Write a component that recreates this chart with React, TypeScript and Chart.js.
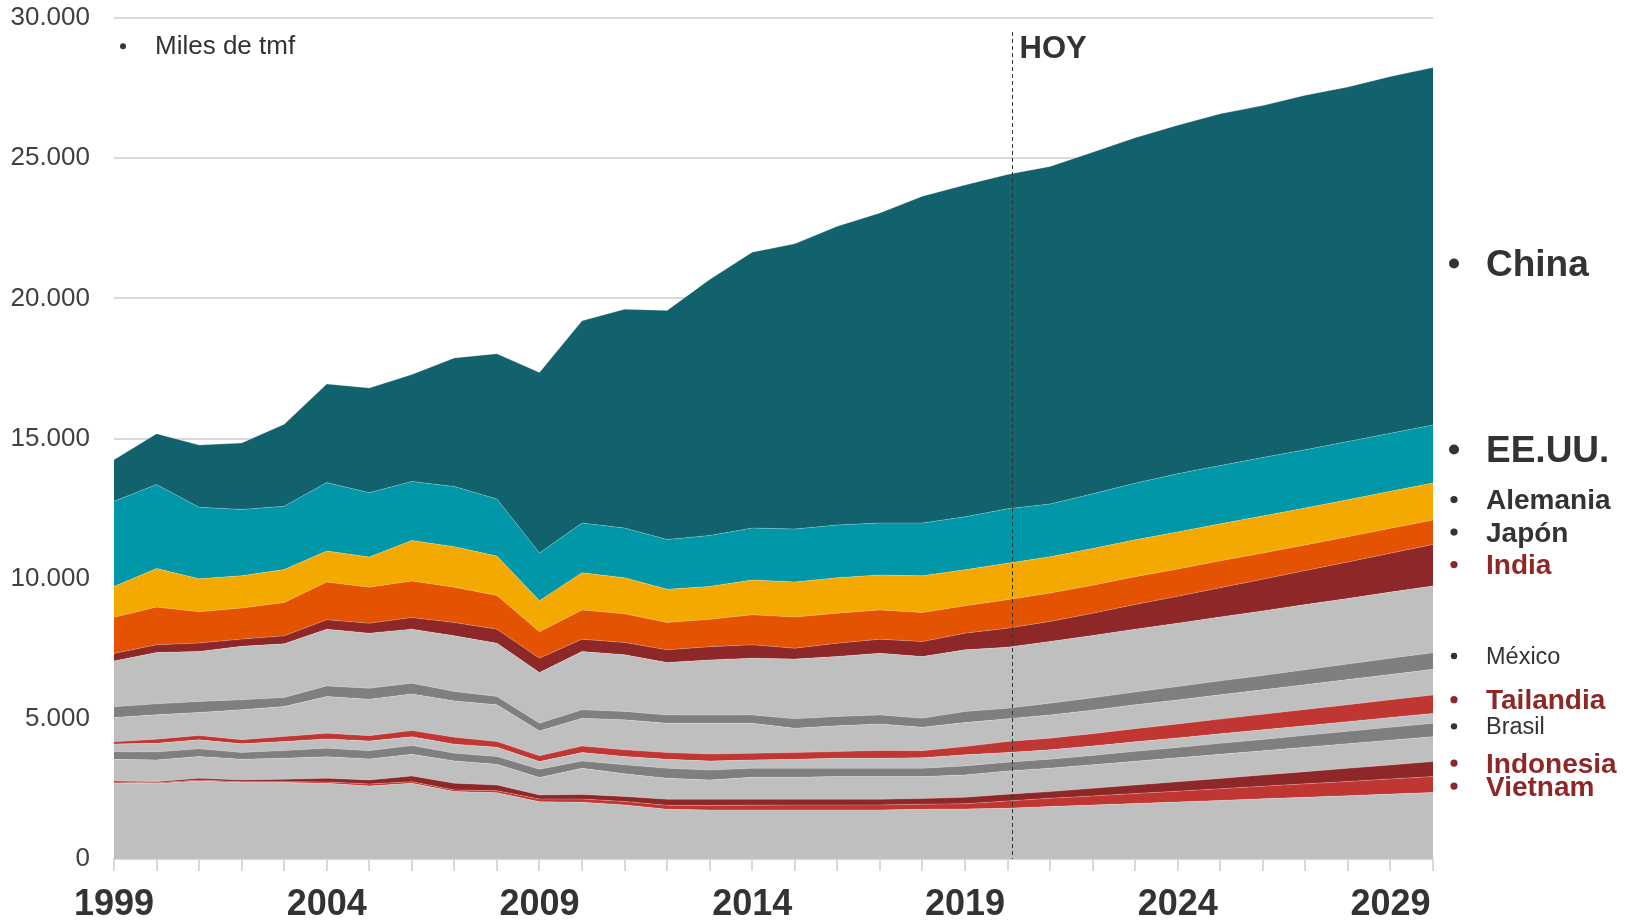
import React, { useEffect, useRef } from 'react';
import { Chart, registerables } from 'chart.js';

Chart.register(...registerables);

// ---------- DATA (miles de tmf) ----------
const YEARS = [
  1999, 2000, 2001, 2002, 2003, 2004, 2005, 2006, 2007, 2008, 2009, 2010, 2011, 2012, 2013, 2014,
  2015, 2016, 2017, 2018, 2019, 2020, 2021, 2022, 2023, 2024, 2025, 2026, 2027, 2028, 2029, 2030,
];
const TICK_YEARS = [1999, 2004, 2009, 2014, 2019, 2024, 2029];
const Y_TICKS_STEP = 5000;
const Y_MAX = 30000;

// stacked from bottom to top
const OTROS_A = [2710, 2690, 2785, 2725, 2725, 2700, 2605, 2700, 2405, 2365, 2045, 2025, 1930, 1775, 1750, 1750, 1750, 1750, 1750, 1775, 1785, 1810, 1870, 1925, 1980, 2035, 2090, 2145, 2200, 2255, 2315, 2370];
const VIETNAM = [35, 30, 35, 35, 35, 50, 70, 60, 60, 70, 95, 115, 125, 140, 160, 170, 175, 175, 180, 180, 185, 260, 295, 325, 355, 385, 415, 450, 480, 510, 540, 570];
const INDONESIA = [40, 40, 60, 60, 85, 130, 145, 200, 235, 205, 145, 165, 175, 215, 220, 210, 205, 205, 200, 200, 230, 240, 240, 270, 305, 335, 370, 400, 435, 470, 500, 535];
const OTROS_B = [770, 775, 775, 740, 750, 770, 750, 775, 800, 740, 620, 930, 810, 750, 690, 785, 785, 810, 810, 785, 800, 830, 835, 840, 845, 855, 860, 865, 870, 880, 885, 890];
const BRASIL = [270, 285, 275, 240, 275, 300, 295, 310, 275, 275, 300, 260, 320, 355, 355, 320, 320, 295, 295, 295, 320, 310, 320, 335, 355, 370, 390, 405, 425, 440, 460, 475];
const OTROS_C = [275, 310, 320, 310, 320, 335, 345, 320, 320, 335, 270, 300, 300, 320, 320, 300, 320, 360, 360, 380, 395, 345, 335, 335, 340, 340, 340, 345, 345, 345, 350, 350];
const TAILANDIA = [80, 145, 155, 145, 180, 200, 190, 215, 250, 200, 205, 235, 235, 240, 250, 235, 240, 240, 275, 250, 295, 395, 415, 440, 470, 495, 525, 550, 580, 605, 630, 660];
const OTROS_D = [870, 870, 820, 1070, 1070, 1310, 1300, 1310, 1295, 1310, 890, 990, 1070, 1045, 1095, 1070, 870, 915, 950, 835, 855, 810, 830, 840, 850, 860, 870, 875, 885, 895, 905, 915];
const MEXICO = [380, 390, 395, 355, 320, 380, 390, 380, 335, 300, 275, 300, 300, 300, 295, 300, 335, 335, 320, 320, 395, 380, 420, 440, 460, 475, 495, 515, 535, 555, 575, 595];
const OTROS_E = [1630, 1830, 1785, 1905, 1915, 2025, 1965, 1930, 1985, 1900, 1805, 2080, 2020, 1870, 1965, 2025, 2130, 2140, 2200, 2200, 2200, 2175, 2200, 2220, 2240, 2260, 2280, 2300, 2320, 2340, 2360, 2380];
const INDIA = [275, 275, 300, 260, 285, 335, 355, 415, 475, 500, 515, 440, 440, 450, 475, 475, 390, 475, 500, 535, 595, 680, 715, 795, 880, 960, 1045, 1130, 1215, 1300, 1390, 1480];
const JAPON = [1285, 1345, 1115, 1105, 1190, 1345, 1285, 1300, 1260, 1200, 940, 1045, 1025, 975, 975, 1070, 1110, 1070, 1045, 1035, 975, 1015, 1010, 1000, 990, 975, 955, 935, 915, 900, 885, 870];
const ALEMANIA = [1105, 1375, 1175, 1155, 1175, 1110, 1075, 1445, 1445, 1405, 1110, 1325, 1280, 1185, 1175, 1245, 1255, 1260, 1250, 1310, 1290, 1300, 1295, 1310, 1315, 1320, 1320, 1320, 1320, 1320, 1320, 1320];
const EEUU = [3035, 3000, 2550, 2365, 2255, 2440, 2295, 2110, 2145, 2035, 1700, 1775, 1775, 1775, 1815, 1850, 1885, 1885, 1850, 1885, 1885, 1940, 1885, 1950, 2020, 2080, 2080, 2085, 2075, 2075, 2075, 2070];
const CHINA = [1480, 1810, 2220, 2370, 2925, 3515, 3735, 3810, 4590, 5180, 6440, 7215, 7805, 8175, 9135, 9840, 10175, 10655, 11060, 11655, 11840, 11930, 12040, 12185, 12325, 12430, 12545, 12555, 12645, 12650, 12720, 12750];

// "today" marker (year)
const HOY_YEAR = 2020.1;

// right-hand labels: name and value where the label is centred
const LABEL_NAMES = ['China', 'EE.UU.', 'Alemania', 'Japón', 'India', 'México', 'Tailandia', 'Brasil', 'Indonesia', 'Vietnam'];
const LABEL_VALUES = [21260, 14625, 12840, 11680, 10520, 7260, 5700, 4750, 3440, 2620];

// ---------- STYLE ----------
const FONT = '"Liberation Sans", Arial, Helvetica, sans-serif';
const GRAY = '#bfbfbf';
const DARK_GRAY = '#7f7f7f';
const RED = '#c03632';
const DARK_RED = '#8e2828';
const TEXT = '#333333';

const SERIES = [
  { name: 'Otros 1', data: OTROS_A, color: GRAY },
  { name: 'Vietnam', data: VIETNAM, color: RED },
  { name: 'Indonesia', data: INDONESIA, color: DARK_RED },
  { name: 'Otros 2', data: OTROS_B, color: GRAY },
  { name: 'Brasil', data: BRASIL, color: DARK_GRAY },
  { name: 'Otros 3', data: OTROS_C, color: GRAY },
  { name: 'Tailandia', data: TAILANDIA, color: RED },
  { name: 'Otros 4', data: OTROS_D, color: GRAY },
  { name: 'México', data: MEXICO, color: DARK_GRAY },
  { name: 'Otros 5', data: OTROS_E, color: GRAY },
  { name: 'India', data: INDIA, color: DARK_RED },
  { name: 'Japón', data: JAPON, color: '#e35302' },
  { name: 'Alemania', data: ALEMANIA, color: '#f4a900' },
  { name: 'EE.UU.', data: EEUU, color: '#0097a9' },
  { name: 'China', data: CHINA, color: '#12626d' },
];

const LABEL_STYLES: Record<string, { size: number; bold: boolean; color: string; dot: number }> = {
  China: { size: 37, bold: true, color: TEXT, dot: 5 },
  'EE.UU.': { size: 37, bold: true, color: TEXT, dot: 5 },
  Alemania: { size: 28, bold: true, color: TEXT, dot: 3.6 },
  'Japón': { size: 28, bold: true, color: TEXT, dot: 3.6 },
  India: { size: 28, bold: true, color: DARK_RED, dot: 3.6 },
  'México': { size: 23.5, bold: false, color: TEXT, dot: 3.2 },
  Tailandia: { size: 28, bold: true, color: DARK_RED, dot: 3.6 },
  Brasil: { size: 23.5, bold: false, color: TEXT, dot: 3.2 },
  Indonesia: { size: 28, bold: true, color: DARK_RED, dot: 3.6 },
  Vietnam: { size: 28, bold: true, color: DARK_RED, dot: 3.6 },
};

const fmt = (v: number) => String(v).replace(/\B(?=(\d{3})+(?!\d))/g, '.');

const annotations = {
  id: 'annotations',
  afterDatasetsDraw(chart: any) {
    const { ctx, chartArea, scales } = chart;
    const x = scales.x;
    const y = scales.y;
    ctx.save();

    // HOY dashed line
    const hx = Math.round(x.getPixelForValue(HOY_YEAR)) + 0.5;
    ctx.strokeStyle = '#333333';
    ctx.lineWidth = 1;
    ctx.setLineDash([4, 3]);
    ctx.beginPath();
    ctx.moveTo(hx, y.getPixelForValue(29500));
    ctx.lineTo(hx, chartArea.bottom);
    ctx.stroke();
    ctx.setLineDash([]);

    ctx.fillStyle = TEXT;
    ctx.textAlign = 'left';
    ctx.textBaseline = 'alphabetic';
    ctx.font = `bold 31px ${FONT}`;
    ctx.fillText('HOY', hx + 7, y.getPixelForValue(28955) + 0.36 * 31);

    // units note
    const my = y.getPixelForValue(29050);
    ctx.beginPath();
    ctx.arc(chartArea.left + 9, my + 1.5, 3, 0, Math.PI * 2);
    ctx.fill();
    ctx.font = `26px ${FONT}`;
    ctx.fillText('Miles de tmf', chartArea.left + 41, my + 0.36 * 26);

    // right-hand labels
    LABEL_NAMES.forEach((name, i) => {
      const st = LABEL_STYLES[name];
      const cy = y.getPixelForValue(LABEL_VALUES[i]);
      ctx.fillStyle = st.color;
      ctx.beginPath();
      ctx.arc(chartArea.right + 21, cy + 0.5, st.dot, 0, Math.PI * 2);
      ctx.fill();
      ctx.font = `${st.bold ? 'bold ' : ''}${st.size}px ${FONT}`;
      ctx.fillText(name, chartArea.right + 53, cy + 0.36 * st.size);
    });

    ctx.restore();
  },
};

const zeroPad = (s: any) => {
  s.paddingTop = 0;
  s.paddingBottom = 0;
  s.paddingLeft = 0;
  s.paddingRight = 0;
};

export default function App() {
  const canvasRef = useRef<HTMLCanvasElement | null>(null);

  useEffect(() => {
    const canvas = canvasRef.current;
    if (!canvas) return;
    const datasets = SERIES.map((s, i) => ({
      label: s.name,
      data: s.data,
      backgroundColor: s.color,
      borderColor: 'rgba(255,255,255,0.22)',
      borderWidth: 1,
      pointRadius: 0,
      tension: 0,
      fill: i === 0 ? 'origin' : '-1',
    }));

    const chart = new Chart(canvas, {
      type: 'line',
      data: { labels: YEARS, datasets },
      options: {
        responsive: false,
        animation: false,
        devicePixelRatio: 1,
        layout: { padding: { left: 0, right: 193, top: 18, bottom: 0 } },
        plugins: { legend: { display: false }, tooltip: { enabled: false } },
        elements: { point: { radius: 0 }, line: { tension: 0 } },
        scales: {
          x: {
            type: 'linear',
            min: YEARS[0],
            max: YEARS[YEARS.length - 1],
            offset: false,
            grid: { drawOnChartArea: false, drawTicks: true, tickLength: 12, color: '#d9d9d9', lineWidth: 2 },
            border: { display: true, color: '#d9d9d9', width: 2 },
            ticks: {
              stepSize: 1,
              autoSkip: false,
              maxRotation: 0,
              minRotation: 0,
              padding: 12,
              color: TEXT,
              font: { family: FONT, size: 36, weight: 'bold' },
              callback: (v: any) => (TICK_YEARS.includes(Number(v)) ? String(v) : ''),
            },
            afterFit: (s: any) => {
              s.height = 62;
              zeroPad(s);
            },
          },
          y: {
            stacked: true,
            min: 0,
            max: Y_MAX,
            grid: { color: '#d9d9d9', lineWidth: 2, drawTicks: false },
            border: { display: false },
            ticks: {
              stepSize: Y_TICKS_STEP,
              padding: 24,
              color: '#404040',
              font: { family: FONT, size: 26 },
              callback: (v: any) => fmt(Number(v)),
            },
            afterFit: (s: any) => {
              s.width = 114;
              zeroPad(s);
            },
          },
        },
      },
      plugins: [annotations],
    } as any);

    return () => chart.destroy();
  }, []);

  return (
    <div style={{ position: 'absolute', left: 0, top: 0, width: 1626, height: 921, background: '#fff' }}>
      <canvas ref={canvasRef} width={1626} height={921} style={{ display: 'block' }} />
    </div>
  );
}
